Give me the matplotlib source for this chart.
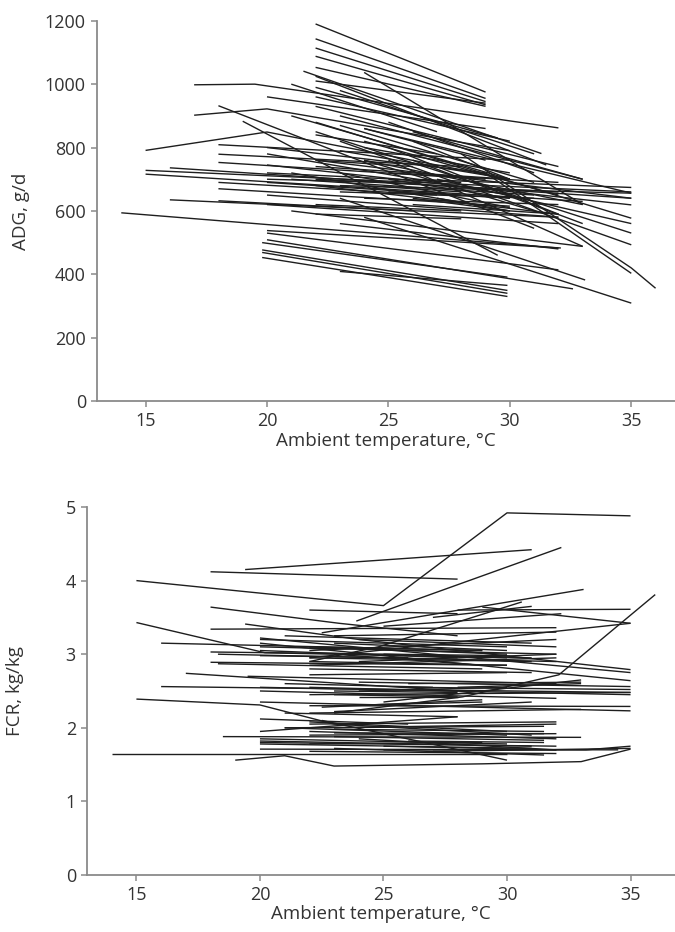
import matplotlib
matplotlib.use("Agg")
import matplotlib.pyplot as plt

# ---- ADG (g/d) vs ambient temperature, one list per study ----
adg_temp = [
    [22, 29], [22, 29], [22, 29], [22, 29], [22, 29],
    [22, 31.5], [21.5, 31.3], [24, 33], [17, 19.5, 32], [17, 20, 30],
    [20, 29], [18, 31], [15, 20, 30], [15, 35], [15, 33],
    [16, 35], [16, 32], [18, 30], [18, 28], [18, 29],
    [18, 27], [18, 30], [18, 26], [19, 29.5], [20, 30],
    [20, 35], [20, 28], [20, 32], [20, 32], [21, 33],
    [22, 35], [22, 35], [23, 35], [22, 30], [22, 32],
    [23, 33], [24, 35], [24, 30], [28, 35, 36], [29, 35],
    [14, 32], [20, 32.1], [20, 32], [20, 32.6], [19.8, 29.9],
    [19.8, 29.9], [19.8, 29.9], [19.8, 29.9], [23, 29.9], [24, 32],
    [23, 31], [23, 33.1], [24, 35], [25, 33], [26, 30],
    [22, 35], [21, 30], [25, 28], [27, 29], [26, 30],
    [23, 30], [22, 29.5], [23, 31], [21, 27], [22, 32],
    [24, 29], [25, 32], [26, 35], [22, 28], [23, 35],
    [23, 31], [24, 32], [22, 30], [21, 31], [22, 32],
    [23, 30], [24, 31], [25, 32], [25, 30], [26, 33],
    [20, 30], [20, 29], [21, 30], [24, 28], [27, 35],
    [26, 32], [22, 28], [23, 32], [24, 33], [22, 26],
    [20, 25], [22, 27], [25, 31], [26, 33], [22, 29],
]
adg_value = [
    [1190, 975], [1143, 955], [1114, 945], [1088, 935], [1053, 930],
    [1025, 745], [1041, 781], [1037, 620], [998, 1000, 862], [902, 922, 790],
    [960, 860], [932, 545], [791, 849, 700], [728, 660], [716, 630],
    [736, 640], [635, 580], [809, 760], [779, 740], [753, 700],
    [690, 650], [670, 615], [632, 600], [883, 460], [780, 650],
    [745, 619], [720, 690], [650, 580], [620, 560], [600, 488],
    [880, 577], [850, 530], [820, 493], [960, 820], [930, 740],
    [900, 700], [860, 656], [800, 720], [780, 420, 356], [720, 403],
    [594, 483], [538, 483], [530, 414], [509, 354], [500, 391],
    [477, 349], [469, 340], [453, 330], [409, 365], [640, 620],
    [660, 640], [640, 382], [580, 309], [760, 488], [820, 700],
    [760, 640], [720, 600], [660, 650], [640, 615], [640, 600],
    [790, 700], [990, 830], [980, 780], [1000, 850], [700, 660],
    [860, 760], [720, 690], [700, 674], [590, 575], [680, 656],
    [870, 690], [820, 650], [740, 700], [700, 650], [680, 590],
    [720, 610], [760, 600], [800, 590], [700, 640], [760, 560],
    [690, 640], [800, 720], [900, 700], [680, 660], [700, 560],
    [620, 590], [620, 600], [560, 480], [760, 620], [760, 740],
    [700, 690], [840, 780], [880, 720], [850, 700], [1010, 940],
]

# ---- FCR (kg/kg) vs ambient temperature ----
fcr_temp = [
    [15, 25, 30, 35], [18, 28], [19.4, 31], [23.9, 32.2], [15, 20.2, 30],
    [18, 23.2, 28], [16, 29], [18, 32], [18, 30], [18, 30],
    [18.3, 32], [18.3, 29], [19.4, 24, 35], [17, 28], [16, 35],
    [15, 20, 23, 31], [14, 30], [19, 21, 23, 29, 33, 35], [23, 28.2, 32.1, 36], [22, 24.8, 30.6],
    [22.5, 33.1], [29, 35], [28, 35], [22, 28], [20, 35],
    [20, 35], [22, 35], [20, 32], [22, 32], [20, 30],
    [21, 31], [23, 29], [22, 32], [22, 31], [22, 30],
    [20, 35], [20, 32], [22, 35], [23, 28], [24, 28],
    [25, 33], [22, 35], [20, 35], [22.5, 29], [23, 31],
    [22, 33], [20, 26], [22, 32], [20, 28], [21, 31.5],
    [23, 31.5], [22, 32], [23, 31.5], [20, 30], [18.5, 33],
    [20, 32], [20, 31], [20, 34.5], [23, 31.5], [22, 32],
    [22.5, 30], [25, 33.2, 35], [27, 35], [23, 32], [25, 32.2],
    [27, 31], [20, 26], [26, 33], [24, 35], [19.5, 32],
    [28, 33], [22, 29], [24, 32], [21, 30], [26, 31.5],
    [22, 32], [23, 32], [20, 31], [22, 29], [24, 32],
    [22, 30], [23, 31.5], [21, 28], [22, 28], [23, 28],
    [24, 30], [22, 30], [22, 31], [23, 30], [20, 28],
    [24, 32], [22, 30], [25, 31], [23, 29], [21, 27],
    [26, 35], [25, 32],
]
fcr_value = [
    [4.0, 3.66, 4.92, 4.88], [4.12, 4.02], [4.15, 4.42], [3.45, 4.45], [3.43, 3.02, 2.95],
    [3.64, 3.42, 3.25], [3.15, 3.05], [3.34, 3.36], [3.03, 2.98], [2.89, 2.85],
    [3.0, 2.9], [2.87, 2.80], [3.41, 3.2, 2.79], [2.74, 2.5], [2.56, 2.48],
    [2.39, 2.31, 2.05, 1.9], [1.64, 1.64], [1.56, 1.62, 1.48, 1.51, 1.54, 1.71], [2.2, 2.42, 2.72, 3.81], [2.9, 3.1, 3.71],
    [3.29, 3.88], [3.64, 3.42], [3.60, 3.61], [3.6, 3.55], [3.22, 2.75],
    [3.15, 2.64], [2.95, 3.42], [3.1, 3.0], [3.05, 3.2], [3.2, 3.1],
    [3.25, 3.15], [3.0, 2.85], [2.85, 2.95], [2.8, 2.75], [2.72, 2.75],
    [2.55, 2.45], [2.5, 2.4], [2.45, 2.48], [2.5, 2.48], [2.42, 2.42],
    [2.35, 2.65], [2.3, 2.29], [2.35, 2.23], [2.28, 2.38], [2.22, 2.35],
    [2.2, 2.25], [2.12, 2.05], [2.05, 2.08], [1.95, 2.15], [2.0, 2.02],
    [1.98, 1.95], [1.95, 1.85], [1.93, 1.92], [1.85, 1.78], [1.88, 1.87],
    [1.8, 1.75], [1.78, 1.72], [1.71, 1.70], [1.72, 1.63], [1.68, 1.65],
    [2.1, 1.56], [1.7, 1.7, 1.75], [1.68, 1.72], [3.25, 3.3], [3.38, 3.55],
    [3.5, 3.65], [2.98, 2.95], [2.6, 2.62], [2.62, 2.56], [2.7, 2.6],
    [2.55, 2.6], [3.1, 3.05], [2.9, 3.0], [2.0, 1.9], [1.82, 1.8],
    [1.9, 1.92], [2.0, 2.05], [1.82, 1.75], [1.78, 1.8], [1.85, 1.7],
    [2.08, 1.95], [1.88, 1.83], [2.2, 2.15], [2.55, 2.5], [2.45, 2.42],
    [2.5, 2.55], [3.1, 3.0], [2.95, 2.9], [3.15, 3.05], [3.05, 2.95],
    [3.2, 3.1], [2.9, 2.85], [3.0, 2.95], [2.3, 2.35], [2.6, 2.55],
    [2.55, 2.52], [1.75, 1.7],
]

plt.rcParams['font.family'] = ['Open Sans', 'DejaVu Sans']
plt.rcParams['font.size'] = 13

line_color = '#1e1e1e'
spine_color = '#8a8a8a'
text_color = '#333333'

fig = plt.figure(figsize=(6.75, 9.32), dpi=100)
ax1 = fig.add_axes([0.1437, 0.5697, 0.8563, 0.408])
ax2 = fig.add_axes([0.1289, 0.0612, 0.8711, 0.3948])


def style_axis(ax):
    for side in ['top', 'right']:
        ax.spines[side].set_visible(False)
    for side in ['left', 'bottom']:
        ax.spines[side].set_color(spine_color)
        ax.spines[side].set_linewidth(1.3)
    ax.tick_params(direction='out', length=4, width=1.1, color=spine_color,
                   labelcolor=text_color, labelsize=13, pad=4)
    ax.set_xlim(13, 36.8)
    ax.set_xticks([15, 20, 25, 30, 35])
    ax.set_xlabel('Ambient temperature, °C', color=text_color, fontsize=13.5, labelpad=1)


for t, v in zip(adg_temp, adg_value):
    ax1.plot(t, v, color=line_color, lw=1.0, solid_capstyle='butt')
style_axis(ax1)
ax1.set_ylim(0, 1200)
ax1.set_yticks(range(0, 1201, 200))
ax1.set_ylabel('ADG, g/d', color=text_color, fontsize=13.5, labelpad=11)

for t, v in zip(fcr_temp, fcr_value):
    ax2.plot(t, v, color=line_color, lw=1.0, solid_capstyle='butt')
style_axis(ax2)
ax2.set_ylim(0, 5)
ax2.set_yticks(range(0, 6))
ax2.set_ylabel('FCR, kg/kg', color=text_color, fontsize=13.5, labelpad=30)

fig.savefig('out.png', dpi=100)
plt.close(fig)
